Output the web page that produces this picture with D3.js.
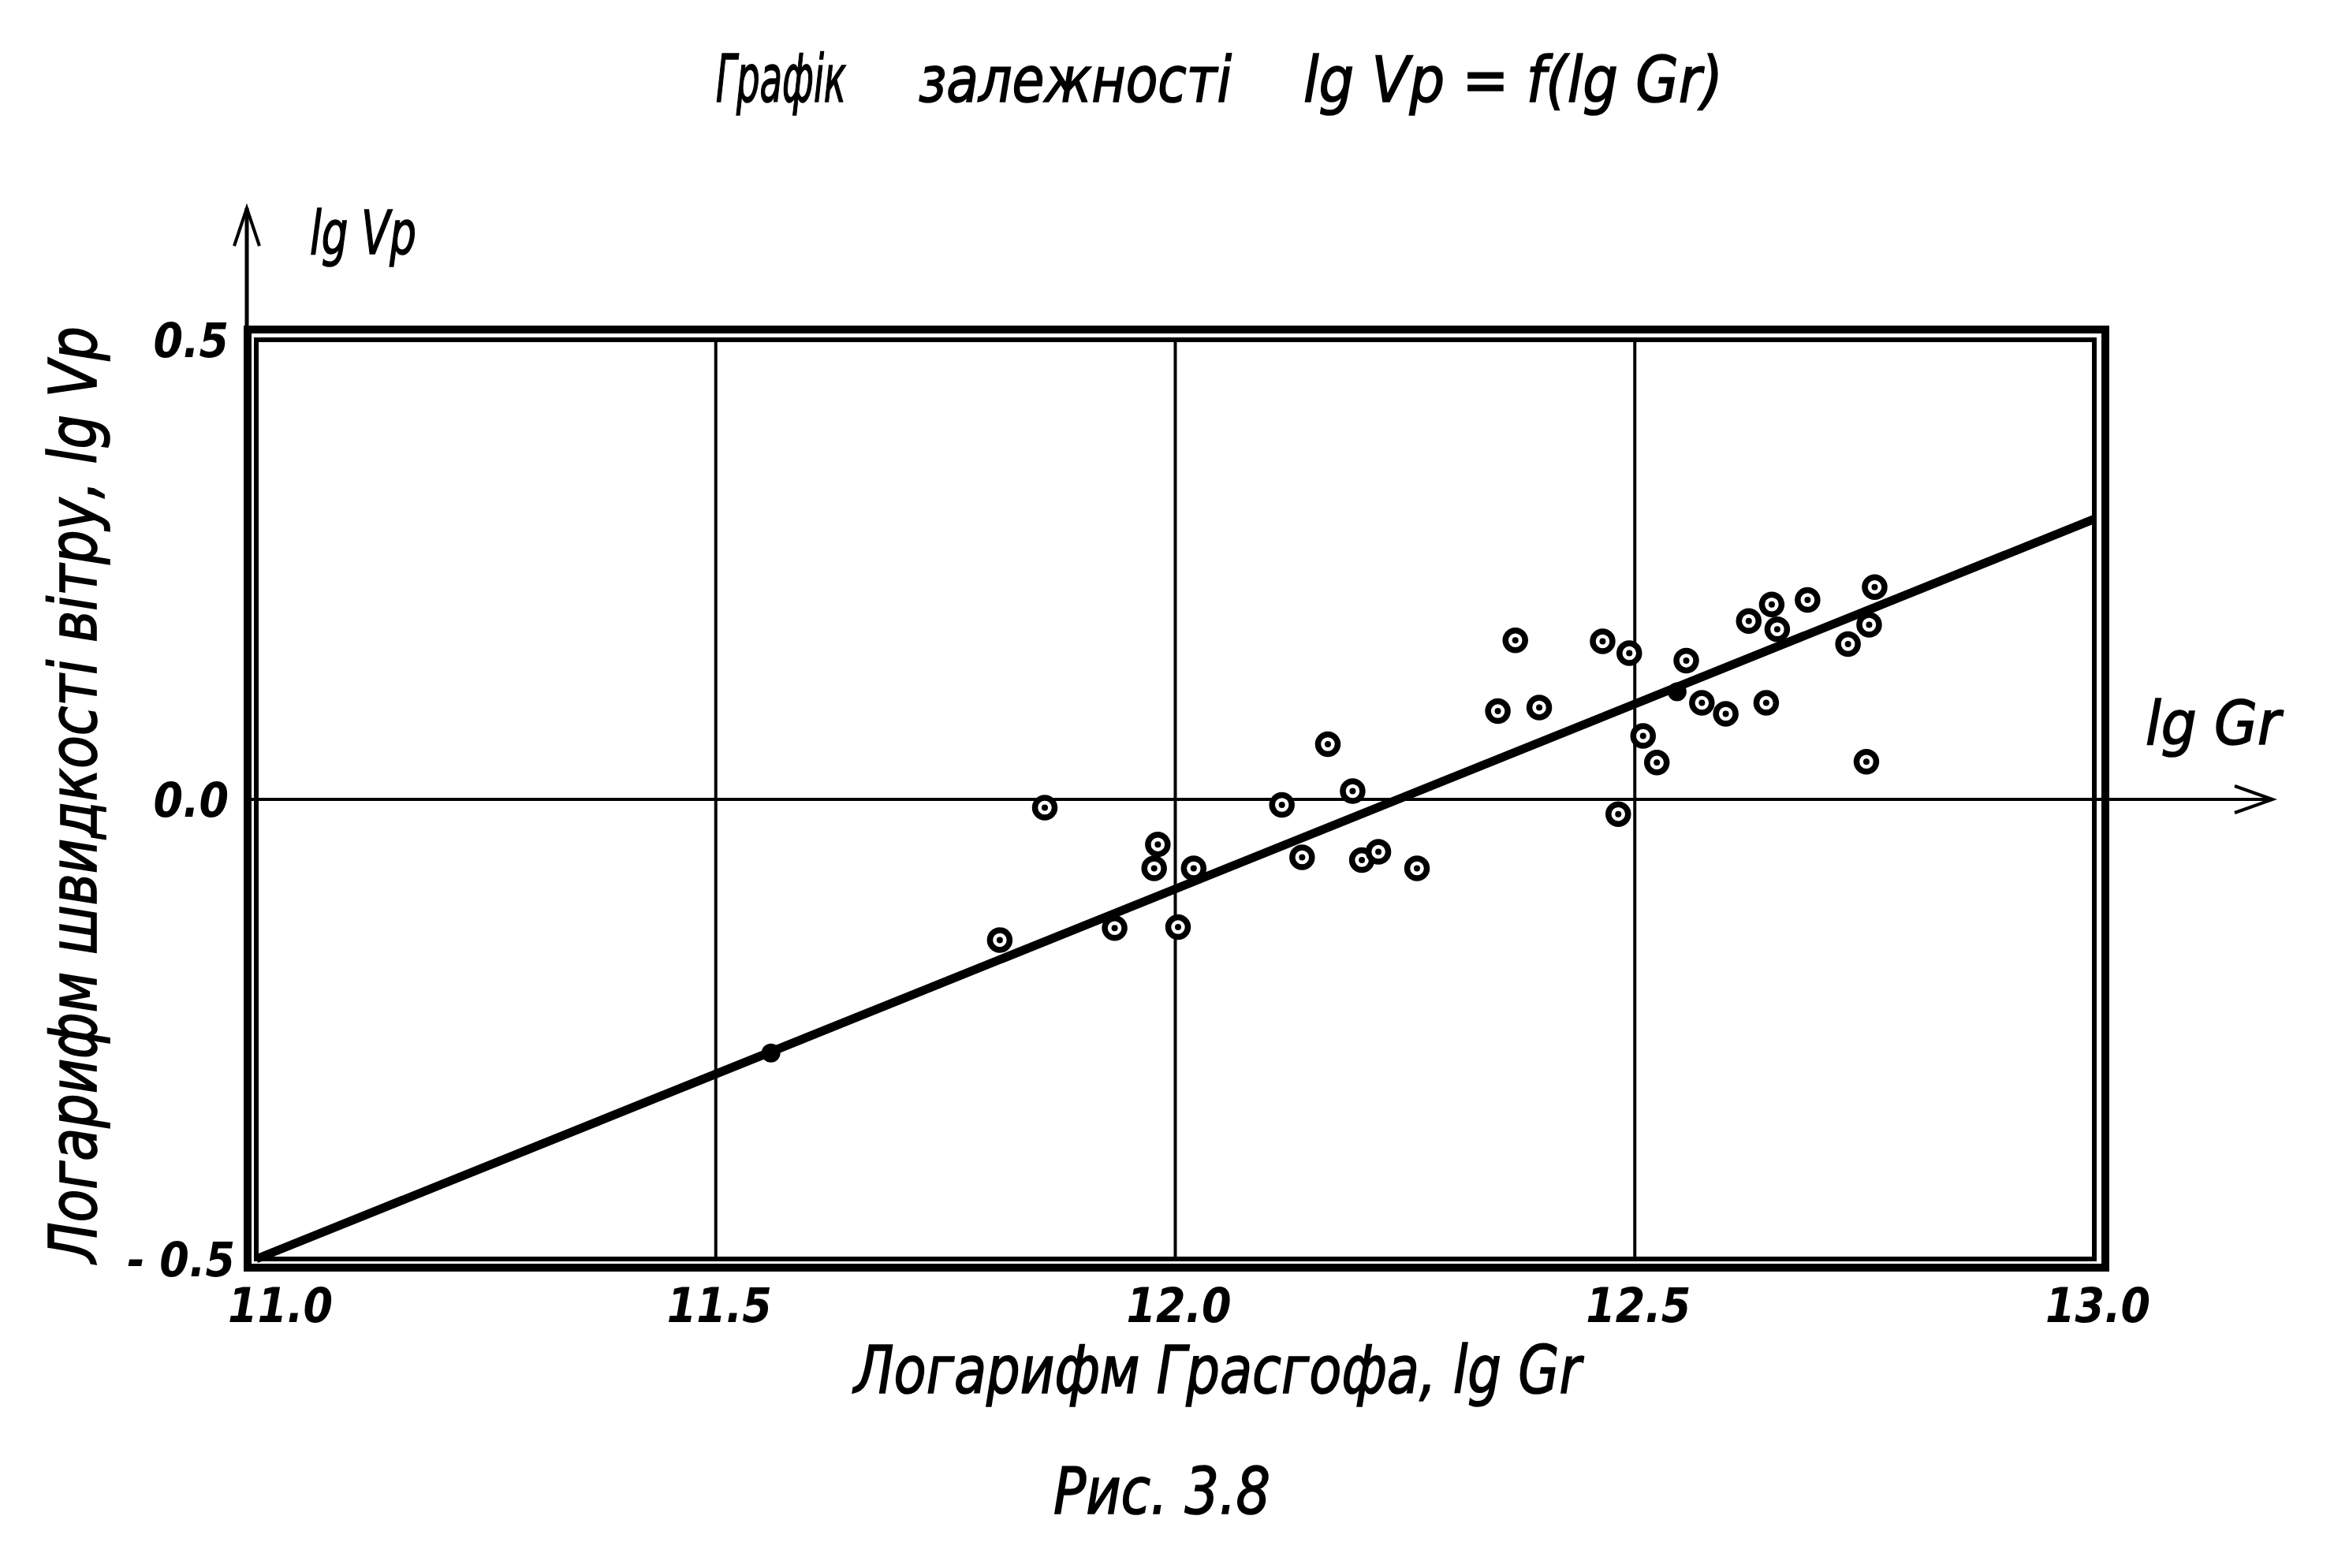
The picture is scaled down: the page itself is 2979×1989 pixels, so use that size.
<!DOCTYPE html>
<html><head><meta charset="utf-8">
<script src="https://cdn.jsdelivr.net/npm/d3@7"></script>
<style>html,body{margin:0;padding:0;background:#fff;} svg{display:block;}</style>
</head><body>
<svg id="chart" width="2979" height="1989"></svg>
<script>
// ---- data ----
const xTicks = [11.0, 11.5, 12.0, 12.5, 13.0];
const xTickLabels = ["11.0", "11.5", "12.0", "12.5", "13.0"];
const yTicks = [0.5, 0.0, -0.5];
const yTickLabels = ["0.5", "0.0", "- 0.5"];
const gridX = [11.5, 12.0, 12.5];
const lgGr = [11.809, 11.858, 11.934, 11.981, 11.977, 12.003, 12.020, 12.116, 12.138, 12.166,
              12.193, 12.203, 12.221, 12.263, 12.351, 12.370, 12.396, 12.465, 12.494, 12.482,
              12.509, 12.524, 12.556, 12.573, 12.599, 12.624, 12.649, 12.655, 12.643, 12.688,
              12.732, 12.755, 12.761, 12.752];
const lgVp = [-0.153, -0.009, -0.140, -0.049, -0.075, -0.139, -0.075, -0.006, -0.063, 0.060,
              0.009, -0.066, -0.057, -0.075, 0.096, 0.173, 0.100, 0.172, 0.159, -0.016,
              0.069, 0.040, 0.151, 0.105, 0.093, 0.194, 0.212, 0.185, 0.105, 0.217,
              0.169, 0.190, 0.231, 0.041];
const fitX = [11.0, 13.0];
const fitY = [-0.5, 0.305];
const markX = [11.56, 12.546];
const markY = [-0.276, 0.117];
const titleParts = ["Графік", "залежності", "lg Vр = f(lg Gr)"];
const xAxisTitle = "Логарифм Грасгофа, lg Gr";
const yAxisTitle = "Логарифм швидкості вітру, lg Vр";
const xArrowLabel = "lg Gr";
const yArrowLabel = "lg Vр";
const caption = "Рис. 3.8";

// ---- setup ----
const FONT = "'Liberation Sans Narrow', 'DejaVu Sans Condensed', 'Open Sans', sans-serif";
const svg = d3.select("#chart");
svg.append("rect").attr("width", 2979).attr("height", 1989).attr("fill", "#fff");

const x = d3.scaleLinear().domain([11, 13]).range([325, 2656]);
const y = d3.scaleLinear().domain([-0.5, 0.5]).range([1597, 431]);
const [x0, x1] = x.range();
const [yb, yt] = y.range();

function txt(g, s, px, py, size, len, opts = {}) {
  const t = g.append("text").attr("x", px).attr("y", py)
    .attr("font-family", FONT).attr("font-style", "italic")
    .attr("font-size", size).attr("fill", "#000")
    .attr("stroke", "#000").attr("stroke-width", opts.sw == null ? 1.6 : opts.sw)
    .attr("font-weight", opts.weight || "normal")
    .attr("text-anchor", opts.anchor || "start")
    .text(s);
  if (len) t.attr("textLength", len).attr("lengthAdjust", "spacingAndGlyphs");
  if (opts.transform) t.attr("transform", opts.transform);
  return t;
}

// grid lines
svg.append("g").selectAll("line").data(gridX).join("line")
  .attr("x1", d => x(d)).attr("x2", d => x(d))
  .attr("y1", yt).attr("y2", yb)
  .attr("stroke", "#000").attr("stroke-width", 4);

// x axis (zero line) with arrow
const axY = y(0);
svg.append("line").attr("x1", x0 - 11).attr("x2", 2880).attr("y1", axY).attr("y2", axY)
  .attr("stroke", "#000").attr("stroke-width", 4);
svg.append("path").attr("d", `M2834,${axY - 17} L2882,${axY} L2834,${axY + 17}`)
  .attr("fill", "none").attr("stroke", "#000").attr("stroke-width", 4);

// y axis with arrow
const axX = x0 - 12;
svg.append("line").attr("x1", axX).attr("x2", axX).attr("y1", yb + 10).attr("y2", 264)
  .attr("stroke", "#000").attr("stroke-width", 5);
svg.append("path").attr("d", `M${axX - 16},312 L${axX},264 L${axX + 16},312`)
  .attr("fill", "none").attr("stroke", "#000").attr("stroke-width", 4);

// frames
svg.append("rect").attr("x", x0).attr("y", yt).attr("width", x1 - x0).attr("height", yb - yt)
  .attr("fill", "none").attr("stroke", "#000").attr("stroke-width", 6);
svg.append("rect").attr("x", x0 - 11).attr("y", yt - 13).attr("width", x1 - x0 + 25).attr("height", yb - yt + 24)
  .attr("fill", "none").attr("stroke", "#000").attr("stroke-width", 10);

// fit line
svg.append("path").datum(fitX.map((d, i) => [d, fitY[i]]))
  .attr("d", d3.line().x(d => x(d[0])).y(d => y(d[1])))
  .attr("fill", "none").attr("stroke", "#000").attr("stroke-width", 11);

// marked points on the line
svg.append("g").selectAll("circle").data(markX).join("circle")
  .attr("cx", d => x(d)).attr("cy", (d, i) => y(markY[i])).attr("r", 12).attr("fill", "#000");

// data points
const pts = svg.append("g").selectAll("g").data(lgGr).join("g")
  .attr("transform", (d, i) => `translate(${x(d)},${y(lgVp[i])})`);
pts.append("circle").attr("r", 12.5).attr("fill", "#fff").attr("stroke", "#000").attr("stroke-width", 7.5);
pts.append("circle").attr("r", 4).attr("fill", "#000");

// tick labels via axes
const gx = svg.append("g").attr("transform", "translate(0,1677)")
  .call(d3.axisBottom(x).tickValues(xTicks).tickFormat((d, i) => xTickLabels[i]).tickSize(0).tickPadding(0));
gx.select(".domain").remove();
gx.selectAll("text").attr("y", 0).attr("dy", 0).attr("dx", (d, i) => i === 0 ? 30 : 4)
  .attr("font-family", FONT).attr("font-style", "italic").attr("font-weight", "bold")
  .attr("font-size", 60).attr("fill", "#000");

const gy = svg.append("g").attr("transform", "translate(290,0)")
  .call(d3.axisLeft(y).tickValues(yTicks).tickFormat((d, i) => yTickLabels[i]).tickSize(0).tickPadding(0));
gy.select(".domain").remove();
gy.selectAll("text").attr("x", (d, i) => i === 2 ? 8 : 0).attr("dy", "0.36em")
  .attr("font-family", FONT).attr("font-style", "italic").attr("font-weight", "bold")
  .attr("font-size", 60).attr("fill", "#000").attr("text-anchor", "end");

// titles
const tg = svg.append("g");
txt(tg, titleParts[0], 908, 129, 84, 165);
txt(tg, titleParts[1], 1165, 129, 80, 397);
txt(tg, titleParts[2], 1653, 129, 80, 532);

txt(tg, yArrowLabel, 393, 322, 76, 135);
txt(tg, xArrowLabel, 2721, 944, 76, 171);

txt(tg, xAxisTitle, 1083, 1767, 84, 922);
txt(tg, caption, 1336, 1920, 82, 275);

txt(tg, yAxisTitle, 0, 0, 84, 1188, { transform: "translate(122,1602) rotate(-90)" });
</script>
</body></html>
